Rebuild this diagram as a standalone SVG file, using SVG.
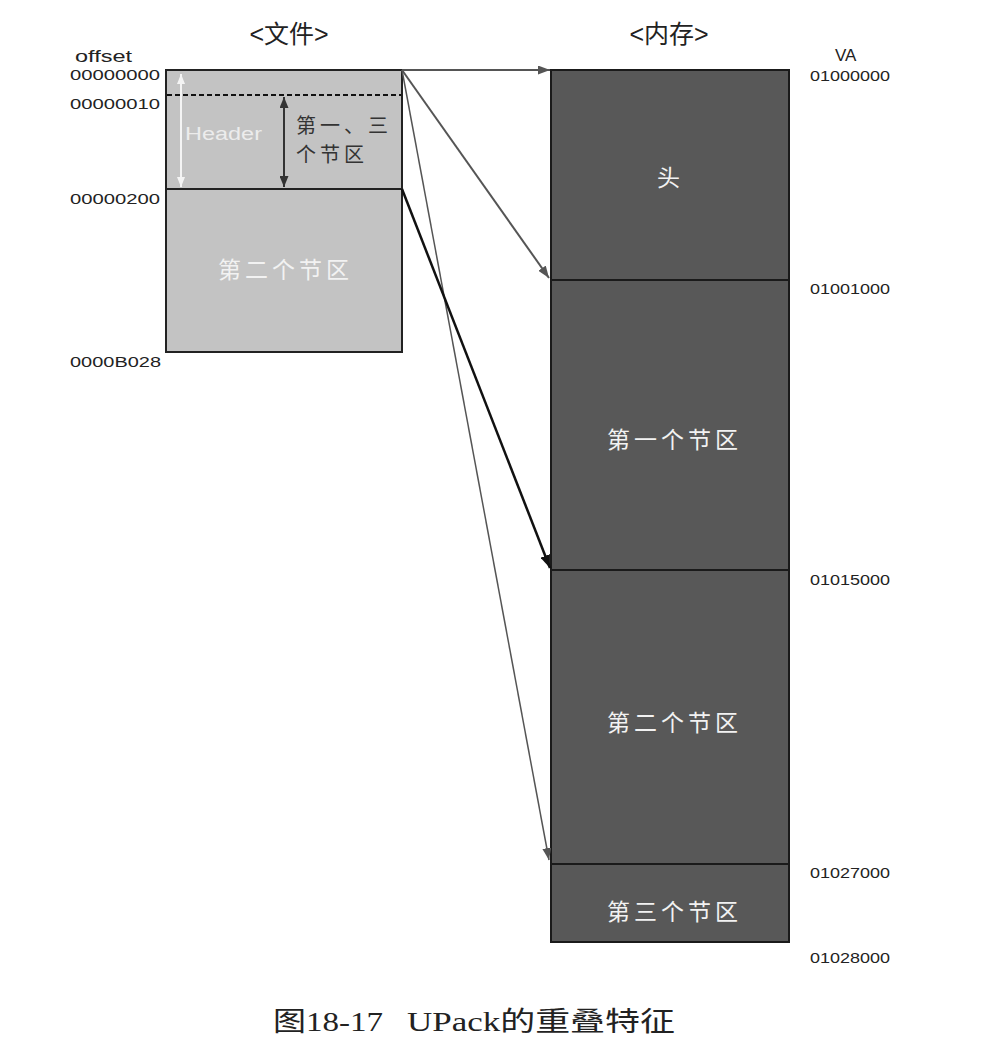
<svg xmlns="http://www.w3.org/2000/svg" width="1000" height="1060" viewBox="0 0 1000 1060">
<style>
.lbl{font-family:"Liberation Sans",Arial,sans-serif;font-size:15px;fill:#222}
.hd{font-family:"Liberation Sans","Noto Sans CJK SC",sans-serif;font-size:25px;fill:#222;text-anchor:middle}
.cjk{font-family:"Noto Sans CJK SC",sans-serif;font-size:23px;letter-spacing:4px}
.w{fill:#f2f2f2}
.file{fill:#c3c3c3;stroke:#222;stroke-width:2}
.mem{fill:#585858;stroke:#1a1a1a;stroke-width:2}
.cap{font-family:"Liberation Serif","Noto Sans CJK SC",serif;font-size:27px;fill:#222}
</style>
<defs>
<marker id="ag" markerWidth="12" markerHeight="9" refX="12" refY="4.5" orient="auto" markerUnits="userSpaceOnUse" viewBox="0 0 12 9"><path d="M0,0 L12,4.5 L0,9 z" fill="#555"/></marker>
<marker id="ab" markerWidth="13" markerHeight="10" refX="13" refY="5" orient="auto" markerUnits="userSpaceOnUse" viewBox="0 0 13 10"><path d="M0,0 L13,5 L0,10 z" fill="#111"/></marker>
<marker id="aw" markerWidth="10" markerHeight="8" refX="10" refY="4" orient="auto-start-reverse" markerUnits="userSpaceOnUse" viewBox="0 0 10 8"><path d="M0,0 L10,4 L0,8 z" fill="#f4f4f4"/></marker>
<marker id="ad" markerWidth="11" markerHeight="9" refX="11" refY="4.5" orient="auto-start-reverse" markerUnits="userSpaceOnUse" viewBox="0 0 11 9"><path d="M0,0 L11,4.5 L0,9 z" fill="#333"/></marker>
</defs>
<rect width="1000" height="1060" fill="#fff"/>
<text class="hd" x="289" y="43">&lt;文件&gt;</text>
<text class="hd" x="669" y="43">&lt;内存&gt;</text>
<text class="lbl" x="75" y="62" style="font-size:17px" textLength="57" lengthAdjust="spacingAndGlyphs">offset</text>
<text class="lbl" x="835" y="61" style="font-size:17px">VA</text>
<g id="offsets">
<text class="lbl" x="70" y="80" textLength="90" lengthAdjust="spacingAndGlyphs">00000000</text>
<text class="lbl" x="70" y="109" textLength="90" lengthAdjust="spacingAndGlyphs">00000010</text>
<text class="lbl" x="70" y="204" textLength="90" lengthAdjust="spacingAndGlyphs">00000200</text>
<text class="lbl" x="70" y="367" textLength="91" lengthAdjust="spacingAndGlyphs">0000B028</text>
</g>
<g id="vas">
<text class="lbl" x="810" y="81" textLength="80" lengthAdjust="spacingAndGlyphs">01000000</text>
<text class="lbl" x="810" y="294" textLength="80" lengthAdjust="spacingAndGlyphs">01001000</text>
<text class="lbl" x="810" y="585" textLength="80" lengthAdjust="spacingAndGlyphs">01015000</text>
<text class="lbl" x="810" y="878" textLength="80" lengthAdjust="spacingAndGlyphs">01027000</text>
<text class="lbl" x="810" y="963" textLength="80" lengthAdjust="spacingAndGlyphs">01028000</text>
</g>
<g id="file-header">
<rect class="file" x="166" y="70" width="236" height="119"/>
<line x1="167" y1="95" x2="401" y2="95" stroke="#111" stroke-width="2" stroke-dasharray="5,3"/>
<line x1="181" y1="74" x2="181" y2="187" stroke="#f4f4f4" stroke-width="2" marker-start="url(#aw)" marker-end="url(#aw)"/>
<text x="185" y="140" textLength="77" lengthAdjust="spacingAndGlyphs" style="font-family:'Liberation Sans',sans-serif;font-size:18px;fill:#ececec">Header</text>
<line x1="284" y1="97" x2="284" y2="187" stroke="#333" stroke-width="2" marker-start="url(#ad)" marker-end="url(#ad)"/>
<text class="cjk" x="296" y="133" fill="#333" style="font-size:20px;letter-spacing:4px">第一、三</text>
<text class="cjk" x="296" y="162" fill="#333" style="font-size:20px;letter-spacing:4px">个节区</text>
</g>
<g id="file-section2">
<rect class="file" x="166" y="189" width="236" height="163"/>
<text class="cjk w" x="218" y="278">第二个节区</text>
</g>
<g id="mem-head">
<rect class="mem" x="551" y="70" width="238" height="210"/>
<text class="cjk w" x="657" y="186">头</text>
</g>
<g id="mem-section1">
<rect class="mem" x="551" y="280" width="238" height="290"/>
<text class="cjk w" x="607" y="448">第一个节区</text>
</g>
<g id="mem-section2">
<rect class="mem" x="551" y="570" width="238" height="294"/>
<text class="cjk w" x="607" y="731">第二个节区</text>
</g>
<g id="mem-section3">
<rect class="mem" x="551" y="864" width="238" height="78"/>
<text class="cjk w" x="607" y="920">第三个节区</text>
</g>
<g id="connectors" fill="none">
<line x1="402" y1="70" x2="550" y2="70" stroke="#555" stroke-width="2" marker-end="url(#ag)"/>
<line x1="402" y1="70" x2="549" y2="278" stroke="#555" stroke-width="2" marker-end="url(#ag)"/>
<line x1="402" y1="70" x2="549" y2="860" stroke="#555" stroke-width="1.5" marker-end="url(#ag)"/>
<line x1="402" y1="189" x2="550" y2="568" stroke="#111" stroke-width="2.5" marker-end="url(#ab)"/>
</g>
<text class="cap" x="273" y="1031" textLength="110" lengthAdjust="spacingAndGlyphs">图18-17</text>
<text class="cap" x="407" y="1031" textLength="268" lengthAdjust="spacingAndGlyphs">UPack的重叠特征</text>
</svg>
